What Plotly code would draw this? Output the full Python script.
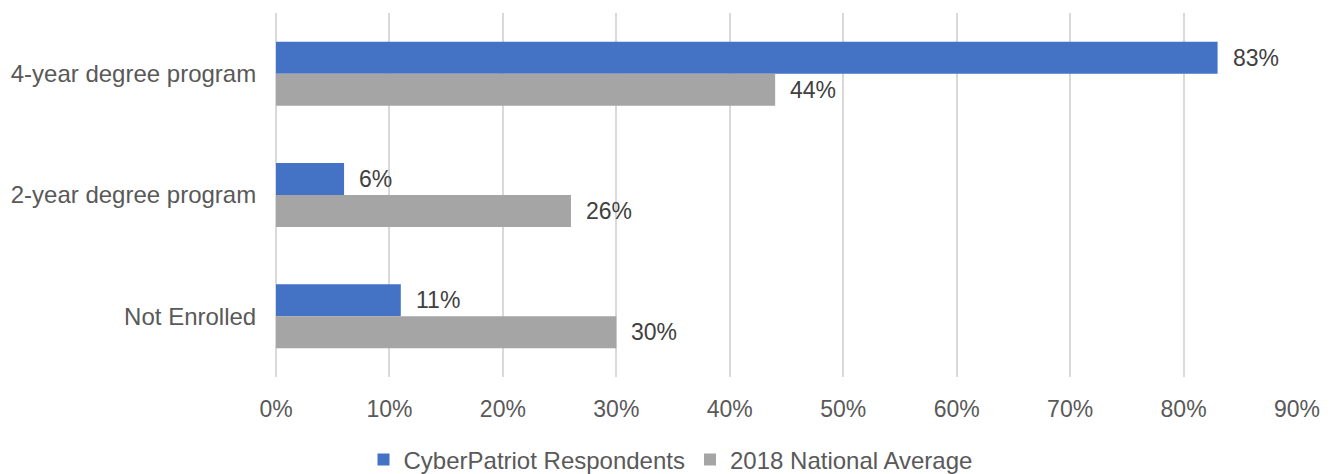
import plotly.graph_objects as go

categories = ["4-year degree program", "2-year degree program", "Not Enrolled"]
cyberpatriot = [0.83, 0.06, 0.11]
national_avg = [0.44, 0.26, 0.30]
series_names = ["CyberPatriot Respondents", "2018 National Average"]
tick_vals = [0, 0.1, 0.2, 0.3, 0.4, 0.5, 0.6, 0.7, 0.8, 0.9]

FONT = "Liberation Sans, Arial, sans-serif"
TXT = "#595959"
BARGAP = 0.473
half = (1 - BARGAP) / 4  # center offset of each bar within its group

fig = go.Figure()
fig.add_trace(go.Bar(y=categories, x=cyberpatriot, orientation="h",
                     name=series_names[0], marker=dict(color="#4472C4", line=dict(width=0))))
fig.add_trace(go.Bar(y=categories, x=national_avg, orientation="h",
                     name=series_names[1], marker=dict(color="#A5A5A5", line=dict(width=0))))

annots = []
for i, c in enumerate(categories):
    for vals, off in ((cyberpatriot, -half), (national_avg, half)):
        annots.append(dict(x=vals[i], y=i + off, xref="x", yref="y",
                           text=f"{round(vals[i]*100)}%", showarrow=False,
                           xanchor="left", yanchor="middle", xshift=13,
                           font=dict(family=FONT, size=23, color="#404040")))

fig.update_layout(
    width=1325, height=466,
    margin=dict(l=268, r=36, t=5, b=97),
    paper_bgcolor="white", plot_bgcolor="white",
    barmode="group", bargap=BARGAP, bargroupgap=0,
    font=dict(family=FONT, size=23, color=TXT),
    showlegend=True,
    legend=dict(orientation="h", xref="container", yref="container",
                x=0.5, xanchor="center", y=0.03, yanchor="middle",
                font=dict(family=FONT, size=24, color=TXT),
                itemwidth=30, tracegroupgap=0),
    annotations=annots,
)
fig.update_xaxes(range=[0, 0.9], tickvals=tick_vals, tickformat=".0%",
                 showgrid=True, gridcolor="#D9D9D9", gridwidth=1.5,
                 zeroline=True, zerolinecolor="#D9D9D9", zerolinewidth=1.5,
                 showline=False, ticks="outside", ticklen=11, tickcolor="rgba(0,0,0,0)",
                 automargin=False,
                 tickfont=dict(family=FONT, size=23, color=TXT))
fig.update_yaxes(type="category", categoryorder="array", categoryarray=categories,
                 autorange="reversed", showgrid=False, zeroline=False, showline=False,
                 ticks="outside", ticklen=14, tickcolor="rgba(0,0,0,0)",
                 automargin=False,
                 tickfont=dict(family=FONT, size=24, color=TXT))

fig.write_html("out.html")
